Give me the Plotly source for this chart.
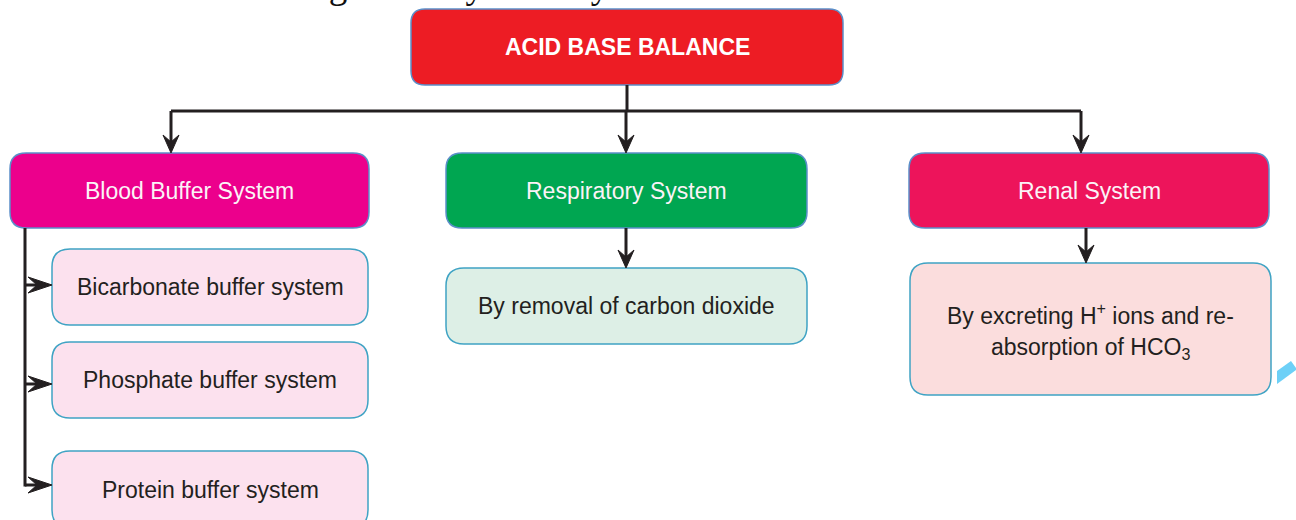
import plotly.graph_objects as go

# ---- content (text) ----
header_text = "acid base balance is regulated by three systems."
title_label = "ACID BASE BALANCE"
system_labels = ["Blood Buffer System", "Respiratory System", "Renal System"]
buffer_labels = ["Bicarbonate buffer system", "Phosphate buffer system", "Protein buffer system"]
respiratory_label = "By removal of carbon dioxide"
renal_lines = ["By excreting H<sup>+</sup> ions and re-", "absorption of HCO<sub>3</sub>"]

# ---- layout geometry (pixels, y downwards) ----
W, H = 1296, 520
title_box = (411, 9, 843, 85)
system_boxes = [(10, 153, 369, 228), (446, 153, 807, 228), (909, 153, 1269, 228)]
system_colors = ["#EC008C", "#00A651", "#ED145B"]
buffer_boxes = [(52, 249, 368, 325), (52, 342, 368, 418), (52, 451, 368, 528)]
resp_box = (446, 268, 807, 344)
renal_box = (910, 263, 1271, 395)

SANS = "Liberation Sans, Arial, Helvetica, sans-serif"
LINE = "#231F20"
EDGE_MAIN = "#5B8FC9"
EDGE_SUB = "#3FA3C4"

fig = go.Figure()
shapes = []
annotations = []


def rrect(b, r, fill, edge, width=1.5):
    x0, y0, x1, y1 = b
    p = (f"M{x0+r},{y0} L{x1-r},{y0} Q{x1},{y0} {x1},{y0+r} L{x1},{y1-r} "
         f"Q{x1},{y1} {x1-r},{y1} L{x0+r},{y1} Q{x0},{y1} {x0},{y1-r} "
         f"L{x0},{y0+r} Q{x0},{y0} {x0+r},{y0} Z")
    shapes.append(dict(type="path", path=p, fillcolor=fill,
                       line=dict(color=edge, width=width), layer="below"))


def label(x, y, text, color, size=23, bold=False):
    t = f"<b>{text}</b>" if bold else text
    annotations.append(dict(x=x, y=y, xref="x", yref="y",
                            text=t, showarrow=False,
                            font=dict(family=SANS, size=size, color=color)))


def center(b):
    return (b[0] + b[2]) / 2, (b[1] + b[3]) / 2


def line(x0, y0, x1, y1, w=3):
    shapes.append(dict(type="line", x0=x0, y0=y0, x1=x1, y1=y1,
                       line=dict(color=LINE, width=w)))


def head_down(x, yt, L=18, hw=8, notch=11):
    p = f"M{x-hw},{yt-L} L{x},{yt} L{x+hw},{yt-L} L{x},{yt-notch} Z"
    shapes.append(dict(type="path", path=p, fillcolor=LINE, line=dict(color=LINE, width=1)))


def head_right(xt, y, L=24, hw=8, notch=15):
    p = f"M{xt-L},{y-hw} L{xt},{y} L{xt-L},{y+hw} L{xt-notch},{y} Z"
    shapes.append(dict(type="path", path=p, fillcolor=LINE, line=dict(color=LINE, width=1)))


# header text cut at the top edge (paper coords so it is not hidden)
annotations.append(dict(x=-0.003, y=1, xref="paper", yref="paper", xanchor="left", yanchor="middle",
                        yshift=15, text=header_text, showarrow=False,
                        font=dict(family="Liberation Serif, Times New Roman, serif", size=37, color="#111111")))

# title box
rrect(title_box, 14, "#ED1C24", EDGE_MAIN)
label(*center(title_box), title_label, "#FFFFFF", size=23, bold=True)

# connectors from title
cx = (title_box[0] + title_box[2]) / 2
branch_x = [171, 626, 1081]
line(cx, title_box[3], cx, 111)
line(branch_x[0], 111, branch_x[2], 111)
for bx in branch_x:
    line(bx, 111, bx, 143)
    head_down(bx, 153)

# system boxes
for b, c, t in zip(system_boxes, system_colors, system_labels):
    rrect(b, 16, c, EDGE_MAIN)
    label(*center(b), t, "#FBF3F7", size=23)

# blood buffer sub-boxes
arrow_y = [285, 384, 485]
line(25, 228, 25, arrow_y[-1] + 1.5)
for b, t, ay in zip(buffer_boxes, buffer_labels, arrow_y):
    rrect(b, 18, "#FCE1EE", EDGE_SUB)
    label(*center(b), t, "#231F20", size=23)
    line(25, ay, 40, ay)
    head_right(52, ay)

# respiratory
line(626, 228, 626, 258)
head_down(626, 268)
rrect(resp_box, 18, "#DDEFE6", EDGE_SUB)
label(*center(resp_box), respiratory_label, "#231F20", size=23)

# renal
line(1086, 228, 1086, 253)
head_down(1086, 263)
rrect(renal_box, 18, "#FBDDDD", EDGE_SUB)
rx, ry = center(renal_box)
label(rx, ry - 15, renal_lines[0], "#231F20", size=23)
label(rx, ry + 19, renal_lines[1], "#231F20", size=23)

# small cyan mark at right edge
shapes.append(dict(type="path", path="M1277,371 L1291,361 L1296,368 L1296,370 L1277,384 Z",
                   fillcolor="#6DD0F7", line=dict(width=0)))

fig.update_layout(
    width=W, height=H,
    margin=dict(l=0, r=0, t=0, b=0),
    paper_bgcolor="white", plot_bgcolor="white",
    xaxis=dict(range=[0, W], visible=False, fixedrange=True),
    yaxis=dict(range=[H, 0], visible=False, fixedrange=True),
    shapes=shapes, annotations=annotations, showlegend=False,
)
fig.write_html("out.html", config={"displayModeBar": False},
               post_script="document.body.style.margin='0px';document.body.style.overflow='hidden';")
